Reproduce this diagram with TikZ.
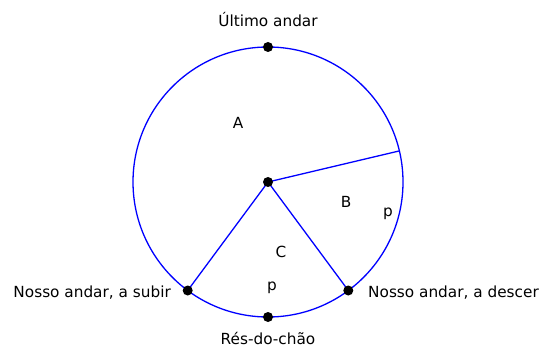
\documentclass[tikz,border=0pt]{standalone}
\usepackage{fontspec}
\setmainfont{DejaVu Sans}
\begin{document}
\begin{tikzpicture}[x=1pt,y=-1pt,
  lbl/.style={font=\fontsize{15.3}{17}\selectfont, inner sep=0pt},
  edge/.style={draw=blue, line width=1.3pt},
  dot/.style={circle, fill=black, inner sep=0pt, minimum size=10pt}]
\useasboundingbox (0,0) rectangle (540,347);
\coordinate (O) at (268,182);
\draw[edge] (O) circle[radius=135];
\path (O) ++(0,-135) coordinate (T);
\path (O) ++(0,135) coordinate (Bt);
\path (O) ++(-80.3,108.5) coordinate (BL);
\path (O) ++(80.3,108.5) coordinate (BR);
\path (O) ++(131.4,-31.1) coordinate (R);
\draw[edge] (O) -- (R);
\draw[edge] (O) -- (BL);
\draw[edge] (O) -- (BR);
\node[dot] (dO) at (O) {};
\node[dot] (dT) at (T) {};
\node[dot] (dB) at (Bt) {};
\node[dot] (dBL) at (BL) {};
\node[dot] (dBR) at (BR) {};
\node[lbl] (lt) at (268,20) {Último andar};
\node[lbl] (lb) at (268,338) {Rés-do-chão};
\node[lbl, anchor=east] (ll) at (171,293) {Nosso andar, a subir};
\node[lbl, anchor=west] (lr) at (368,293) {Nosso andar, a descer};
\node[lbl] (a) at (238,123) {A};
\node[lbl] (b) at (346,202) {B};
\node[lbl] (p1) at (388,214) {p};
\node[lbl] (c) at (281,252) {C};
\node[lbl] (p2) at (272,288) {p};
\end{tikzpicture}
\end{document}
